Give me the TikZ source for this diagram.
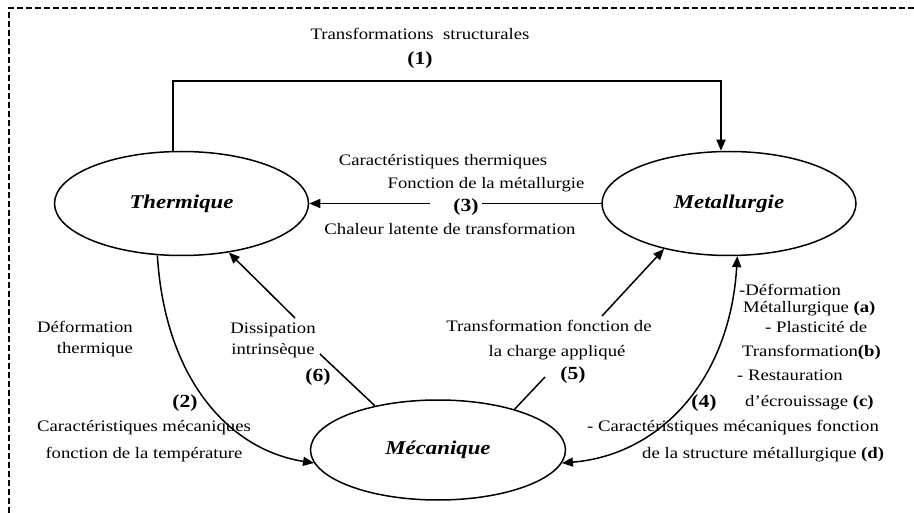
\documentclass[tikz,border=0pt]{standalone}
\usepackage{fontspec}
\setmainfont{Liberation Serif}[FakeStretch=1.17]
\usetikzlibrary{shapes.geometric,arrows.meta}
\begin{document}
\begin{tikzpicture}[x=1pt,y=-1pt,
  ell/.style={ellipse,draw,line width=1.5pt,minimum width=254pt,minimum height=104pt,inner sep=0pt,font=\fontsize{19.5}{22}\selectfont\bfseries\itshape},
  lbl/.style={inner sep=0pt,text height=11pt,text depth=3.5pt,font=\fontsize{16}{19}\selectfont},
  num/.style={inner sep=0pt,text height=13pt,text depth=4pt,font=\fontsize{18.5}{21}\selectfont\bfseries},
  con/.style={line width=1.5pt},
  arr/.style={con,-{Triangle[length=11pt,width=9pt]}},
  darr/.style={con,{Triangle[length=11pt,width=9pt]}-{Triangle[length=11pt,width=9pt]}},
  border/.style={line width=1.3pt,dash pattern=on 6pt off 3pt}]
\useasboundingbox (0,0) rectangle (914,513);
\draw[border] (9,513) -- (9,8) -- (914,8);

% ellipses
\node[ell] (T) at (181.5,203.5) {Thermique};
\node[ell] (Me) at (729,203.5) {Metallurgie};
\node[ell,minimum width=255pt,minimum height=100pt] (Mc) at (438,450) {Mécanique};

% (1)
\coordinate (k1) at (173,81);
\coordinate (k2) at (721,81);
\draw[arr] (k1 |- T.north) -- (k1) -- (k2) -- (k2 |- Me.north);
\node[lbl] (t1) at (420,36) {Transformations\ \ structurales};
\node[num] (n1) at (420,60) {(1)};

% (3)
\coordinate (c3a) at (430,203.5);
\coordinate (c3b) at (482,203.5);
\draw[con] (Me.west) -- (c3b);
\draw[arr] (c3a) -- (T.east);
\node[num] (n3) at (466,207) {(3)};
\node[lbl] (t3a) at (443,162) {Caractéristiques thermiques};
\node[lbl] (t3b) at (486,185) {Fonction de la métallurgie};
\node[lbl] (t3c) at (450,231) {Chaleur latente de transformation};

% (2)
\draw[arr] (T.245) .. controls (165,380) and (230,450) .. (Mc.186);
\node[lbl,anchor=east] (t2a) at (133,329) {Déformation};
\node[lbl,anchor=east] (t2b) at (133,350) {thermique};
\node[num] (n2) at (185,403) {(2)};
\node[lbl] (t2c) at (144,428) {Caractéristiques mécaniques};
\node[lbl] (t2d) at (144,455) {fonction de la température};

% (6)
\coordinate (c6a) at (295,318);
\coordinate (c6b) at (320,354);
\draw[con] (Mc.145) -- (c6b);
\draw[arr] (c6a) -- (T.314);
\node[lbl] (t6a) at (273,330) {Dissipation};
\node[lbl] (t6b) at (273,351) {intrinsèque};
\node[num] (n6) at (318,377) {(6)};

% (5)
\coordinate (c5a) at (602,316);
\coordinate (c5b) at (545,377);
\draw[con] (Mc.28) -- (c5b);
\draw[arr] (c5a) -- (Me.215);
\node[lbl] (t5a) at (549,328) {Transformation fonction de};
\node[lbl] (t5b) at (557,353) {la charge appliqué};
\node[num] (n5) at (573,375) {(5)};

% (4)
\draw[darr] (Me.279) .. controls (730,380) and (660,455) .. (Mc.354);
\node[lbl,anchor=west] (t4a) at (739,292) {-Déformation};
\node[lbl,anchor=west] (t4b) at (743,309) {Métallurgique \textbf{(a)}};
\node[lbl,anchor=west] (t4c) at (765,329) {- Plasticité de};
\node[lbl,anchor=west] (t4d) at (742,353) {Transformation\textbf{(b)}};
\node[lbl,anchor=west] (t4e) at (737,377) {- Restauration};
\node[lbl,anchor=west] (t4f) at (745,403) {d’écrouissage \textbf{(c)}};
\node[num] (n4) at (704,403) {(4)};
\node[lbl,anchor=west] (t4g) at (587,428) {- Caractéristiques mécaniques fonction};
\node[lbl,anchor=west] (t4h) at (642,455) {de la structure métallurgique \textbf{(d)}};
\end{tikzpicture}
\end{document}
